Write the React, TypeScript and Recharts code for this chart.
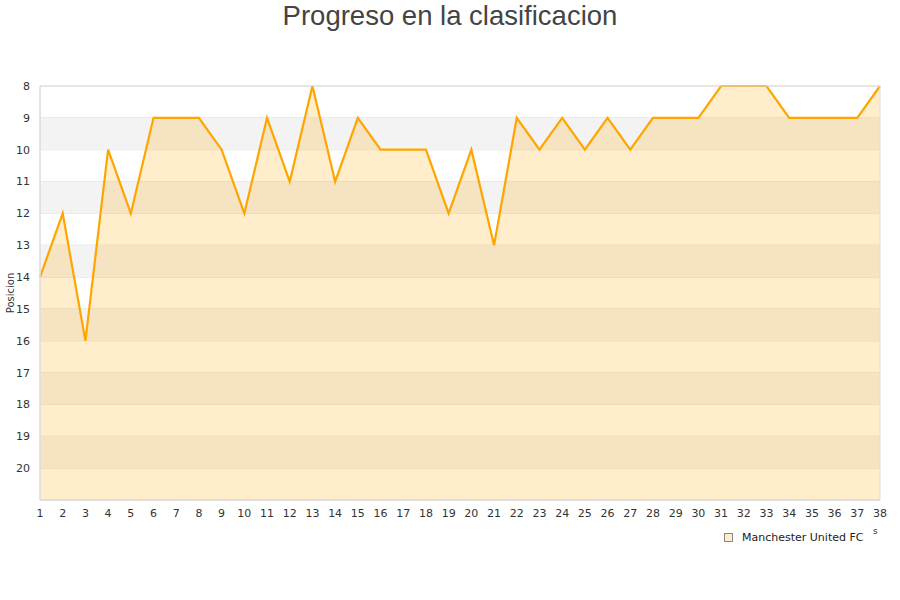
import {
  Area,
  AreaChart,
  CartesianGrid,
  Legend,
  ReferenceArea,
  XAxis,
  YAxis,
} from "recharts";

const TITLE = "Progreso en la clasificacion";
const TEAM = "Manchester United FC";

const matchdays = [
  1, 2, 3, 4, 5, 6, 7, 8, 9, 10, 11, 12, 13, 14, 15, 16, 17, 18, 19, 20, 21,
  22, 23, 24, 25, 26, 27, 28, 29, 30, 31, 32, 33, 34, 35, 36, 37, 38,
];
const positions = [
  14, 12, 16, 10, 12, 9, 9, 9, 10, 12, 9, 11, 8, 11, 9, 10, 10, 10, 12, 10, 13,
  9, 10, 9, 10, 9, 10, 9, 9, 9, 8, 8, 8, 9, 9, 9, 9, 8,
];
const yTicks = [8, 9, 10, 11, 12, 13, 14, 15, 16, 17, 18, 19, 20];
// shaded bands [from, to]
const bands = [
  [9, 10],
  [11, 12],
  [13, 14],
  [15, 16],
  [17, 18],
  [19, 20],
];

const data = matchdays.map((j, i) => ({ j, pos: positions[i] }));

const FONT = "'DejaVu Sans', sans-serif";

function LegendBox() {
  return (
    <div
      style={{
        display: "flex",
        alignItems: "center",
        fontFamily: FONT,
        fontSize: 11,
        color: "#222",
      }}
    >
      <span
        style={{
          display: "inline-block",
          width: 7,
          height: 7,
          border: "1px solid #888",
          background: "#ffecc8",
          marginRight: 9,
        }}
      />
      {TEAM}
    </div>
  );
}

export default function App() {
  return (
    <div
      style={{
        position: "absolute",
        left: 0,
        top: 0,
        width: 900,
        height: 600,
        background: "#fff",
      }}
    >
      <div
        style={{
          position: "absolute",
          top: 0,
          left: 0,
          width: 900,
          textAlign: "center",
          fontFamily: "'Liberation Sans', Arial, sans-serif",
          fontSize: 27.5,
          color: "#444",
          lineHeight: "32px",
        }}
      >
        {TITLE}
      </div>
      <div
        style={{
          position: "absolute",
          left: 10,
          top: 293,
          transform: "translate(-50%, -50%) rotate(-90deg)",
          fontFamily: FONT,
          fontSize: 10,
          color: "#333",
          whiteSpace: "nowrap",
        }}
      >
        Posicion
      </div>
      <AreaChart
        width={900}
        height={600}
        data={data}
        margin={{ top: 86, right: 20, bottom: 57, left: 0 }}
      >
        {bands.map(([a, b]) => (
          <ReferenceArea
            key={a}
            y1={a}
            y2={b}
            fill="#f3f3f3"
            fillOpacity={1}
            stroke="none"
          />
        ))}
        <CartesianGrid vertical={false} stroke="#dedede" />
        <XAxis
          dataKey="j"
          type="number"
          domain={[1, 38]}
          ticks={matchdays}
          interval={0}
          tickLine={false}
          axisLine={{ stroke: "#dcdcdc" }}
          tickSize={0}
          tickMargin={9}
          height={30}
          tick={{ fontSize: 11, fill: "#333", fontFamily: FONT }}
        />
        <YAxis
          type="number"
          domain={[8, 21]}
          reversed
          ticks={yTicks}
          interval={0}
          tickLine={false}
          axisLine={{ stroke: "#dcdcdc" }}
          tickSize={0}
          tickMargin={10}
          width={40}
          tick={{ fontSize: 11, fill: "#333", fontFamily: FONT }}
        />
        <Area
          type="linear"
          dataKey="pos"
          name={TEAM}
          baseValue={21}
          stroke="#FFA500"
          strokeWidth={2.2}
          fill="#FFA500"
          fillOpacity={0.2}
          dot={false}
          activeDot={false}
          isAnimationActive={false}
        />
        <Legend
          content={<LegendBox />}
          wrapperStyle={{ position: "absolute", left: 724, top: 531, width: 170 }}
        />
        {/* plot border */}
        <ReferenceArea
          x1={1}
          x2={38}
          y1={8}
          y2={21}
          fill="none"
          stroke="#dcdcdc"
          ifOverflow="visible"
        />
      </AreaChart>
      <div
        style={{
          position: "absolute",
          left: 873,
          top: 526,
          fontFamily: FONT,
          fontSize: 9,
          color: "#333",
        }}
      >
        s
      </div>
    </div>
  );
}
